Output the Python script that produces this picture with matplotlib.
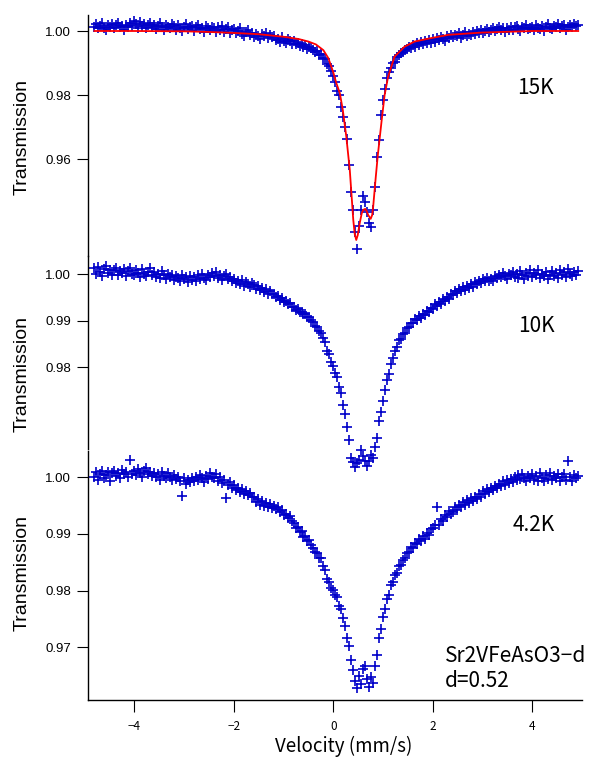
import matplotlib
matplotlib.use("Agg")
import matplotlib.pyplot as plt
import numpy as np

plt.rcParams['font.family'] = ['Liberation Sans', 'DejaVu Sans']
CJK = ['Noto Sans CJK JP', 'DejaVu Sans']

# velocity channels (mm/s), 0.04 step
velocity = np.round(-4.80 + 0.04 * np.arange(244), 2)

# 15K spectrum
t15 = [
    1.0012, 1.0021, 1.0008, 1.0017, 1.0025, 1.0010, 1.0004, 1.0019, 1.0014, 1.0022,
    1.0009, 1.0018, 1.0026, 1.0011, 1.0016, 1.0003, 1.0020, 1.0013, 1.0024, 1.0015,
    1.0032, 1.0021, 1.0010, 1.0027, 1.0016, 1.0023, 1.0008, 1.0019, 1.0025, 1.0013,
    1.0020, 1.0006, 1.0017, 1.0024, 1.0011, 1.0002, 1.0019, 1.0014, 1.0008, 1.0021,
    1.0015, 1.0003, 1.0018, 1.0009, 0.9999, 1.0014, 1.0022, 1.0006, 1.0011, 1.0017,
    1.0001, 1.0013, 1.0020, 1.0005, 1.0010, 0.9997, 1.0015, 1.0008, 1.0002, 1.0012,
    1.0009, 0.9996, 1.0011, 1.0003, 1.0016, 0.9998, 1.0006, 1.0012, 0.9994, 1.0004,
    1.0005, 0.9993, 0.9999, 1.0008, 0.9990, 0.9984, 0.9997, 1.0002, 0.9988, 0.9994,
    0.9980, 0.9992, 0.9985, 0.9976, 0.9990, 0.9983, 0.9994, 0.9978, 0.9986, 0.9980,
    0.9984, 0.9971, 0.9976, 0.9966, 0.9980, 0.9970, 0.9962, 0.9975, 0.9968, 0.9960,
    0.9968, 0.9958, 0.9963, 0.9953, 0.9960, 0.9950, 0.9955, 0.9944, 0.9951, 0.9946,
    0.9942, 0.9935, 0.9936, 0.9926, 0.9927, 0.9916, 0.9912, 0.9898, 0.9892, 0.9875,
    0.9858, 0.9840, 0.9814, 0.9800, 0.9762, 0.9731, 0.9700, 0.9664, 0.9580, 0.9496,
    0.9440, 0.9372, 0.9318, 0.9390, 0.9442, 0.9484, 0.9466, 0.9434, 0.9400, 0.9388,
    0.9442, 0.9512, 0.9606, 0.9660, 0.9737, 0.9785, 0.9820, 0.9852, 0.9872, 0.9885,
    0.9899, 0.9903, 0.9920, 0.9924, 0.9932, 0.9935, 0.9942, 0.9944, 0.9950, 0.9948,
    0.9956, 0.9950, 0.9961, 0.9957, 0.9965, 0.9958, 0.9968, 0.9962, 0.9971, 0.9964,
    0.9974, 0.9966, 0.9978, 0.9972, 0.9981, 0.9975, 0.9970, 0.9983, 0.9977, 0.9986,
    0.9980, 0.9989, 0.9984, 0.9993, 0.9979, 0.9988, 0.9996, 0.9985, 0.9991, 0.9987,
    0.9997, 0.9990, 1.0001, 0.9995, 1.0004, 0.9993, 1.0000, 1.0007, 0.9996, 1.0003,
    1.0009, 0.9999, 1.0006, 1.0012, 1.0002, 1.0008, 0.9997, 1.0010, 1.0004, 1.0013,
    1.0003, 1.0011, 1.0016, 1.0006, 1.0000, 1.0013, 1.0008, 1.0018, 1.0005, 1.0010,
    1.0014, 1.0004, 1.0019, 1.0010, 1.0007, 1.0016, 1.0001, 1.0012, 1.0021, 1.0009,
    1.0006, 1.0017, 1.0012, 1.0023, 1.0008, 1.0015, 1.0019, 1.0004, 1.0013, 1.0020,
    1.0011, 1.0022, 1.0015, 1.0019,
]

# fitted curve for 15K (red line)
fit_vel = [-4.80, -4.00, -3.00, -2.50, -2.00, -1.50, -1.00, -0.70, -0.50, -0.35,
           -0.20, -0.10, 0.00, 0.06, 0.13, 0.19, 0.26, 0.33, 0.40, 0.43, 0.46,
           0.49, 0.53, 0.57, 0.60, 0.64, 0.67, 0.70, 0.75, 0.78, 0.80, 0.85,
           0.89, 0.97, 1.03, 1.10, 1.23, 1.43, 1.63, 1.97, 2.31, 2.97, 4.00, 4.92]
fit_t = [1.0000, 1.0000, 0.9999, 0.9997, 0.9994, 0.9990, 0.9982, 0.9975, 0.9967, 0.9958,
         0.9940, 0.9915, 0.9870, 0.9837, 0.9806, 0.9753, 0.9670, 0.9566, 0.9410, 0.9365, 0.9347,
         0.9362, 0.9400, 0.9430, 0.9441, 0.9444, 0.9437, 0.9425, 0.9413, 0.9425, 0.9451, 0.9540,
         0.9607, 0.9720, 0.9800, 0.9857, 0.9920, 0.9951, 0.9967, 0.9978, 0.9988, 0.9995, 1.0000, 1.0000]

# 10K spectrum, middle panel
t10 = [
    1.0012, 1.0001, 1.0015, 1.0004, 0.9996, 1.0010, 1.0018, 1.0003, 1.0008, 0.9999,
    1.0009, 1.0013, 0.9998, 1.0006, 1.0002, 1.0011, 0.9995, 1.0007, 1.0014, 1.0000,
    0.9997, 1.0008, 1.0003, 0.9993, 1.0010, 1.0001, 0.9996, 1.0005, 1.0012, 0.9999,
    1.0004, 0.9994, 1.0000, 0.9991, 1.0007, 0.9997, 0.9989, 1.0001, 0.9993, 0.9998,
    0.9987, 0.9996, 0.9991, 0.9984, 0.9998, 0.9989, 0.9993, 0.9983, 0.9995, 0.9988,
    0.9993, 0.9985, 0.9997, 0.9990, 1.0001, 0.9992, 0.9988, 0.9999, 0.9994, 1.0003,
    0.9995, 1.0004, 0.9991, 0.9998, 0.9987, 0.9996, 1.0001, 0.9989, 0.9993, 0.9985,
    0.9990, 0.9981, 0.9986, 0.9978, 0.9988, 0.9975, 0.9983, 0.9979, 0.9972, 0.9981,
    0.9976, 0.9968, 0.9974, 0.9965, 0.9971, 0.9962, 0.9968, 0.9958, 0.9964, 0.9957,
    0.9958, 0.9950, 0.9953, 0.9945, 0.9948, 0.9940, 0.9942, 0.9935, 0.9937, 0.9929,
    0.9930, 0.9923, 0.9925, 0.9918, 0.9919, 0.9913, 0.9914, 0.9907, 0.9908, 0.9901,
    0.9896, 0.9889, 0.9887, 0.9878, 0.9874, 0.9862, 0.9853, 0.9834, 0.9827, 0.9811,
    0.9802, 0.9788, 0.9779, 0.9758, 0.9744, 0.9718, 0.9699, 0.9670, 0.9642, 0.9604,
    0.9595, 0.9585, 0.9593, 0.9601, 0.9622, 0.9608, 0.9597, 0.9586, 0.9598, 0.9611,
    0.9604, 0.9627, 0.9648, 0.9684, 0.9703, 0.9727, 0.9750, 0.9772, 0.9786, 0.9807,
    0.9820, 0.9835, 0.9843, 0.9858, 0.9860, 0.9872, 0.9874, 0.9884, 0.9886, 0.9895,
    0.9894, 0.9903, 0.9901, 0.9910, 0.9906, 0.9915, 0.9912, 0.9921, 0.9918, 0.9927,
    0.9925, 0.9935, 0.9931, 0.9940, 0.9936, 0.9946, 0.9941, 0.9950, 0.9947, 0.9956,
    0.9955, 0.9964, 0.9959, 0.9968, 0.9963, 0.9972, 0.9966, 0.9975, 0.9970, 0.9979,
    0.9973, 0.9982, 0.9978, 0.9986, 0.9980, 0.9989, 0.9984, 0.9992, 0.9985, 0.9990,
    0.9986, 0.9995, 0.9991, 0.9999, 0.9993, 1.0003, 0.9996, 0.9990, 1.0001, 0.9997,
    1.0004, 0.9994, 1.0000, 0.9992, 1.0006, 0.9997, 0.9990, 1.0002, 0.9995, 1.0008,
    0.9993, 1.0003, 0.9997, 1.0009, 0.9991, 1.0001, 0.9996, 1.0005, 0.9989, 0.9999,
    1.0006, 0.9995, 1.0002, 0.9991, 1.0008, 0.9998, 1.0004, 0.9993, 1.0010, 1.0001,
    0.9996, 1.0005, 0.9999, 1.0007,
]

# 4.2K spectrum, bottom panel
t42 = [
    1.0000, 1.0009, 0.9996, 1.0006, 1.0012, 0.9998, 1.0004, 1.0010, 0.9994, 1.0007,
    1.0011, 1.0002, 1.0008, 0.9999, 1.0013, 1.0005, 1.0009, 1.0001, 1.0030, 1.0006,
    1.0012, 1.0004, 1.0015, 1.0008, 1.0001, 1.0011, 1.0016, 1.0005, 1.0010, 1.0003,
    1.0008, 1.0000, 1.0006, 0.9996, 1.0010, 1.0003, 0.9998, 1.0007, 1.0001, 0.9995,
    1.0004, 0.9997, 1.0001, 0.9993, 0.9967, 0.9999, 0.9989, 0.9996, 0.9991, 0.9998,
    0.9993, 1.0000, 0.9995, 1.0004, 0.9998, 0.9991, 1.0003, 0.9997, 1.0007, 1.0001,
    0.9998, 1.0005, 0.9994, 1.0000, 0.9990, 0.9996, 0.9964, 0.9986, 0.9991, 0.9982,
    0.9987, 0.9978, 0.9982, 0.9974, 0.9979, 0.9970, 0.9976, 0.9968, 0.9972, 0.9965,
    0.9966, 0.9957, 0.9961, 0.9952, 0.9958, 0.9950, 0.9955, 0.9947, 0.9953, 0.9945,
    0.9950, 0.9944, 0.9947, 0.9938, 0.9942, 0.9933, 0.9936, 0.9929, 0.9931, 0.9923,
    0.9919, 0.9911, 0.9912, 0.9903, 0.9905, 0.9895, 0.9896, 0.9888, 0.9889, 0.9880,
    0.9876, 0.9868, 0.9867, 0.9858, 0.9857, 0.9844, 0.9836, 0.9821, 0.9816, 0.9805,
    0.9802, 0.9792, 0.9788, 0.9773, 0.9767, 0.9751, 0.9737, 0.9717, 0.9703, 0.9678,
    0.9660, 0.9640, 0.9628, 0.9650, 0.9636, 0.9662, 0.9668, 0.9644, 0.9630, 0.9648,
    0.9638, 0.9667, 0.9686, 0.9716, 0.9733, 0.9754, 0.9768, 0.9785, 0.9793, 0.9810,
    0.9815, 0.9827, 0.9832, 0.9844, 0.9846, 0.9855, 0.9857, 0.9867, 0.9869, 0.9877,
    0.9876, 0.9885, 0.9882, 0.9891, 0.9888, 0.9896, 0.9892, 0.9902, 0.9898, 0.9908,
    0.9910, 0.9915, 0.9947, 0.9916, 0.9927, 0.9923, 0.9933, 0.9930, 0.9940, 0.9936,
    0.9939, 0.9947, 0.9943, 0.9952, 0.9948, 0.9956, 0.9951, 0.9960, 0.9955, 0.9963,
    0.9958, 0.9966, 0.9962, 0.9971, 0.9966, 0.9975, 0.9970, 0.9979, 0.9974, 0.9982,
    0.9977, 0.9985, 0.9981, 0.9989, 0.9984, 0.9993, 0.9987, 0.9995, 0.9990, 0.9997,
    0.9992, 1.0000, 0.9995, 1.0004, 0.9997, 1.0006, 0.9999, 0.9993, 1.0003, 0.9998,
    1.0005, 0.9996, 1.0002, 0.9993, 1.0007, 0.9999, 0.9994, 1.0004, 0.9997, 1.0008,
    0.9995, 1.0003, 0.9998, 1.0006, 0.9993, 1.0001, 1.0005, 0.9996, 1.0028, 1.0000,
    0.9994, 1.0004, 0.9998, 1.0002,
]

temps = ['15K', '10K', '4.2K']
spectra = [t15, t10, t42]
ytick_sets = [[0.96, 0.98, 1.00], [0.98, 0.99, 1.00], [0.97, 0.98, 0.99, 1.00]]
ylims = [(0.92969, 1.0050), (0.96236, 1.00388), (0.96072, 1.00464)]
# panel rectangles in pixels: (top, bottom)
panel_px = [(15, 256), (256, 449), (451, 700)]
label_y_px = [137, 374, 573]
temp_pos_px = [(517, 88), (518, 326), (513, 525)]

W, H = 603, 757
fig = plt.figure(figsize=(W / 100, H / 100), dpi=100)
left, right = 87.5, 581.7

blue = '#0000c8'
axes = []
for k in range(3):
    top, bot = panel_px[k]
    ax = fig.add_axes([left / W, 1 - bot / H, (right - left) / W, (bot - top) / H])
    ax.plot(velocity, spectra[k], ls='none', marker='+', ms=7, mew=1.2,
            color=blue, clip_on=False, zorder=2)
    ax.set_xlim(-4.94, 4.99)
    ax.set_ylim(*ylims[k])
    ax.set_yticks(ytick_sets[k])
    ax.set_yticklabels(['%.2f' % t for t in ytick_sets[k]])
    for s in ['top', 'right']:
        ax.spines[s].set_visible(False)
    ax.spines['left'].set_linewidth(1.0)
    ax.tick_params(axis='y', direction='out', length=8, width=0.8,
                   labelsize=9.5, pad=4)
    if k < 2:
        ax.spines['bottom'].set_visible(False)
        ax.tick_params(axis='x', bottom=False, labelbottom=False)
    else:
        ax.spines['bottom'].set_linewidth(1.0)
        ax.set_xticks([-4, -2, 0, 2, 4])
        ax.set_xticklabels(['\u22124', '\u22122', '0', '2', '4'])
        ax.tick_params(axis='x', direction='out', length=8.5, width=0.8, pad=6)
        for lab in ax.get_xticklabels():
            lab.set_family(CJK)
            lab.set_fontsize(8.5)
    ax.patch.set_alpha(0)
    fig.text(22 / W, 1 - label_y_px[k] / H, 'Transmission', rotation=90,
             ha='center', va='center', fontsize=14)
    tx, ty = temp_pos_px[k]
    fig.text(tx / W, 1 - ty / H, temps[k], ha='left', va='center',
             fontsize=15, family=CJK)
    axes.append(ax)

axes[0].plot(fit_vel, fit_t, color='#ff0000', lw=1.3, zorder=3, clip_on=False)

fig.text(445 / W, 1 - 656 / H, 'Sr2VFeAsO3\u2212d', ha='left', va='center',
         fontsize=15, family=CJK)
fig.text(445 / W, 1 - 681 / H, 'd=0.52', ha='left', va='center',
         fontsize=15, family=CJK)
fig.text(344 / W, 1 - 746 / H, 'Velocity (mm/s)', ha='center', va='center',
         fontsize=13.5, family=CJK)

fig.savefig('out.png', dpi=100)
